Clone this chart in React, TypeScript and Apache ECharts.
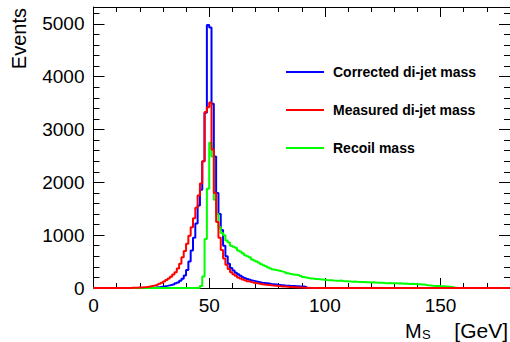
import React, { useEffect, useRef } from "react";
import * as echarts from "echarts";

const FONT = '"Liberation Sans", Arial, Helvetica, sans-serif';

// Histogram range and binning (1 GeV bins)
const X_MIN = 0;
const X_MAX = 180;
const Y_MAX = 5320;
const xMajorLabels = [0, 50, 100, 150];
const yMajorLabels = [0, 1000, 2000, 3000, 4000, 5000];

const seriesNames = ["Corrected di-jet mass", "Measured di-jet mass", "Recoil mass"];
const seriesColors = ["#0000ff", "#ff0000", "#00ff00"];

// Corrected di-jet mass: bin contents starting at bin 25
const correctedStart = 25;
const correctedCounts = [
  5, 8, 12, 18, 25, 32, 40, 50, 60, 72,
  88, 105, 135, 175, 235, 340, 500, 710, 950, 1220,
  1560, 1860, 2400, 3320, 4980, 4930, 3490, 2490, 1800, 1400,
  1100, 800, 600, 460, 380, 330, 290, 260, 230, 205,
  185, 170, 155, 140, 130, 120, 110, 100, 95, 90,
  85, 78, 72, 66, 60, 55, 52, 48, 45, 42,
  40, 38, 35, 32, 30, 28, 20,
];

// Measured di-jet mass: bin contents starting at bin 15
const measuredStart = 15;
const measuredCounts = [
  2, 3, 4, 6, 8, 10, 14, 18, 25, 33,
  42, 52, 65, 80, 100, 125, 150, 180, 215, 255,
  300, 370, 460, 580, 700, 840, 990, 1150, 1320, 1520,
  1750, 1980, 2400, 3330, 3420, 3510, 2620, 1800, 1250, 950,
  720, 560, 440, 360, 300, 260, 230, 200, 178, 160,
  145, 130, 118, 106, 96, 88, 80, 73, 66, 60,
  55, 50, 45, 41, 37, 33, 30, 27, 24, 21,
  18, 15, 12, 10, 8, 6, 4, 3, 2, 1,
];

// Recoil mass: bin contents starting at bin 45
const recoilStart = 45;
const recoilCounts = [
  5, 40, 220, 930, 1880, 2750, 2490, 1670, 1400, 1150,
  1040, 1000, 900, 860, 800, 780, 760, 710, 690, 660,
  620, 600, 580, 540, 520, 500, 480, 450, 430, 410,
  390, 370, 350, 340, 330, 320, 310, 300, 280, 270,
  260, 250, 250, 240, 225, 210, 200, 190, 180, 178,
  172, 170, 165, 160, 155, 150, 148, 145, 140, 138,
  135, 140, 132, 128, 130, 125, 120, 122, 118, 115,
  112, 115, 110, 108, 105, 108, 102, 100, 98, 100,
  95, 92, 95, 90, 88, 90, 85, 88, 82, 85,
  80, 78, 80, 75, 70, 72, 68, 65, 58, 50,
  45, 42, 40, 38, 36, 35, 32, 30, 25, 20,
  10, 0,
];

function histogramPoints(start: number, counts: number[]): [number, number][] {
  const pts: [number, number][] = [];
  for (let i = X_MIN; i < X_MAX; i++) {
    const k = i - start;
    pts.push([i, k >= 0 && k < counts.length ? counts[k] : 0]);
  }
  pts.push([X_MAX, pts[pts.length - 1][1]]);
  return pts;
}

export default function App() {
  const ref = useRef<HTMLDivElement>(null);

  useEffect(() => {
    if (!ref.current) return;
    const chart = echarts.init(ref.current, undefined, { renderer: "svg" });

    const gridBox = { left: 93.5, right: 0, top: 7, bottom: 54, containLabel: false };
    const black = { color: "#000", width: 1 };

    const xAx = (grid: number, pos: string, interval: number, tickLen: number, labels: boolean, line: boolean) => ({
      gridIndex: grid,
      type: "value",
      position: pos,
      min: X_MIN,
      max: X_MAX,
      interval,
      axisLine: { show: line, onZero: false, lineStyle: black },
      axisTick: { show: true, inside: true, length: tickLen, lineStyle: black },
      axisLabel: {
        show: labels,
        fontSize: 19,
        fontFamily: FONT,
        color: "#000",
        margin: 8,
        showMaxLabel: false,
        formatter: (v: number) => (xMajorLabels.includes(v) ? String(v) : ""),
      },
      splitLine: { show: false },
    });
    const yAx = (grid: number, pos: string, interval: number, tickLen: number, labels: boolean, line: boolean) => ({
      gridIndex: grid,
      type: "value",
      position: pos,
      min: 0,
      max: Y_MAX,
      interval,
      axisLine: { show: line, onZero: false, lineStyle: black },
      axisTick: { show: true, inside: true, length: tickLen, lineStyle: black },
      axisLabel: {
        show: labels,
        fontSize: 19,
        fontFamily: FONT,
        color: "#000",
        margin: 9,
        showMaxLabel: false,
        formatter: (v: number) => (yMajorLabels.includes(v) ? String(v) : ""),
      },
      splitLine: { show: false },
    });

    const datasets = [
      histogramPoints(correctedStart, correctedCounts),
      histogramPoints(recoilStart, recoilCounts),
      histogramPoints(measuredStart, measuredCounts),
    ];
    const order = [0, 2, 1];

    chart.setOption({
      animation: false,
      backgroundColor: "#fff",
      grid: [gridBox, { ...gridBox }],
      xAxis: [
        xAx(0, "bottom", 50, 10, true, true),
        xAx(0, "top", 50, 10, false, true),
        xAx(1, "bottom", 10, 5, false, false),
        xAx(1, "top", 10, 5, false, false),
      ],
      yAxis: [
        yAx(0, "left", 1000, 11, true, true),
        yAx(0, "right", 1000, 11, false, true),
        yAx(1, "left", 200, 6, false, false),
        yAx(1, "right", 200, 6, false, false),
      ],
      legend: {
        orient: "vertical",
        left: 286,
        top: 65,
        padding: 0,
        itemWidth: 38,
        itemHeight: 2,
        itemGap: 24,
        icon: "rect",
        data: seriesNames,
        textStyle: {
          fontSize: 14,
          fontWeight: "bold",
          fontFamily: FONT,
          color: "#000",
          padding: [0, 0, 0, 4],
        },
      },
      series: order.map((si, j) => ({
        name: seriesNames[si],
        type: "line",
        xAxisIndex: 0,
        yAxisIndex: 0,
        step: "end",
        symbol: "none",
        showSymbol: false,
        clip: false,
        data: datasets[j],
        lineStyle: { color: seriesColors[si], width: 2 },
        itemStyle: { color: seriesColors[si] },
        z: 2 + j,
      })),
      graphic: [
        {
          type: "text",
          x: 18.5,
          y: 8,
          rotation: Math.PI / 2,
          style: {
            text: "Events",
            font: `20px ${FONT}`,
            fill: "#000",
            align: "right",
            verticalAlign: "middle",
          },
        },
        {
          type: "text",
          x: 405,
          y: 330.5,
          style: { text: "M", font: `20px ${FONT}`, fill: "#000", align: "left", verticalAlign: "middle" },
        },
        {
          type: "text",
          x: 422,
          y: 334.5,
          style: { text: "S", font: `13px ${FONT}`, fill: "#000", align: "left", verticalAlign: "middle" },
        },
        {
          type: "text",
          x: 508,
          y: 330.5,
          style: { text: "[GeV]", font: `21px ${FONT}`, fill: "#000", align: "right", verticalAlign: "middle" },
        },
      ],
    });

    return () => chart.dispose();
  }, []);

  return (
    <div
      ref={ref}
      style={{ position: "fixed", left: 0, top: 0, width: 510, height: 342, background: "#fff" }}
    />
  );
}
